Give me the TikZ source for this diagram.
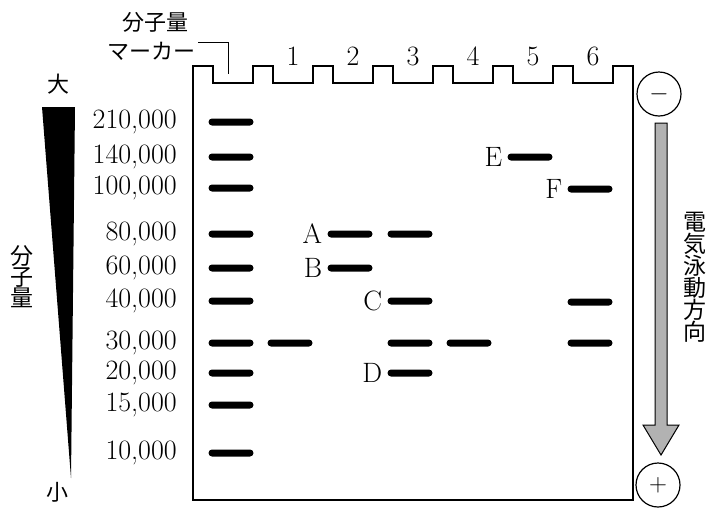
\documentclass[tikz,border=0pt]{standalone}
\usepackage{fontspec}
\newfontfamily\jp{Noto Sans CJK JP}
\usetikzlibrary{positioning}

\tikzset{
	band/.style={fill=black, rounded corners=3.5pt, minimum width=45pt,
		minimum height=7pt, inner sep=0pt},
	num/.style={font=\fontsize{28}{32}\selectfont, inner sep=0pt},
	jtext/.style={font=\jp\fontsize{22}{22}\selectfont, inner sep=0pt, align=center},
	pole/.style={draw, circle, line width=1.2pt, minimum size=44pt, inner sep=0pt,
		font=\fontsize{24}{24}\selectfont},
	gelline/.style={line width=1.3pt, line join=miter},
	dirarrow/.style={draw, line width=1pt, fill=gray!60}
}

\begin{document}
\begin{tikzpicture}[x=1pt, y=-1pt]
	\useasboundingbox (0,0) rectangle (708,507);
	
	% gel with the comb wells
	\draw[gelline] (193,500) -- (193,66)
	\foreach \k in {0,...,6}{ -- ++(20,0) -- ++(0,17) -- ++(40,0) -- ++(0,-17) }
	-- ++(20,0) -- (633,500) -- cycle;
	
	% marker lane
	\node[jtext] (mtitle) at (155,22) {分子量};
	\node[jtext] (mname) at (151,51) {マーカー};
	\draw[line width=1pt] (198,42) -- (228,42) -- (228,74);
	
	\foreach \y/\mw [count=\i] in {122/{210,000}, 157/{140,000}, 188/{100,000},
		234/{80,000}, 268/{60,000}, 301/{40,000}, 343/{30,000},
		373/{20,000}, 405/{15,000}, 453/{10,000}}{
		\node[band] (m\i) at (231,\y) {};
		\node[num, anchor=east] (mw\i) at (177,\y) {\mw};
	}
	
	\foreach \n in {1,...,6}
	\node[num] (lane\n) at ({233+60*\n},56) {\n};
	
	% sample bands
	\node[band] (b1) at (290,343) {};
	\node[band] (b2a) at (350,234) {};
	\node[band] (b2b) at (350,268) {};
	\node[band] (b3a) at (410,234) {};
	\node[band] (b3c) at (410,301) {};
	\node[band] (b3b) at (410,343) {};
	\node[band] (b3d) at (410,373) {};
	\node[band] (b4) at (469,343) {};
	\node[band] (b5e) at (530,157) {};
	\node[band] (b6f) at (590,189) {};
	\node[band] (b6a) at (590,302) {};
	\node[band] (b6b) at (590,343) {};
	
	\node[num, left=5pt of b2a] (lA) {A};
	\node[num, left=5pt of b2b] (lB) {B};
	\node[num, left=5pt of b3c] (lC) {C};
	\node[num, left=5pt of b3d] (lD) {D};
	\node[num, left=5pt of b5e] (lE) {E};
	\node[num, left=5pt of b6f] (lF) {F};
	
	% size scale
	\fill (42,107) -- (75,107) -- (71,478) -- cycle;
	\node[jtext] (big) at (58,84) {大};
	\node[jtext] (small) at (57,492) {小};
	\node[jtext, font=\jp\fontsize{23}{21}\selectfont] (mwlab) at (22,277) {分\\子\\量};
	
	% poles and direction
	\node[pole] (neg) at (659,94) {$-$};
	\node[pole] (pos) at (658,485) {$+$};
	\coordinate (arrtop) at (661,123);
	\coordinate (arrtip) at (661,455);
	\draw[dirarrow] (arrtop) ++(-6,0) -- ++(12,0) -- ++(0,302) -- ++(12,0)
	-- (arrtip) -- ++(-18,-30) -- ++(12,0) -- cycle;
	\node[jtext, font=\jp\fontsize{23}{22}\selectfont] (dirlab) at (695,277) {電\\気\\泳\\動\\方\\向};
\end{tikzpicture}
\end{document}
